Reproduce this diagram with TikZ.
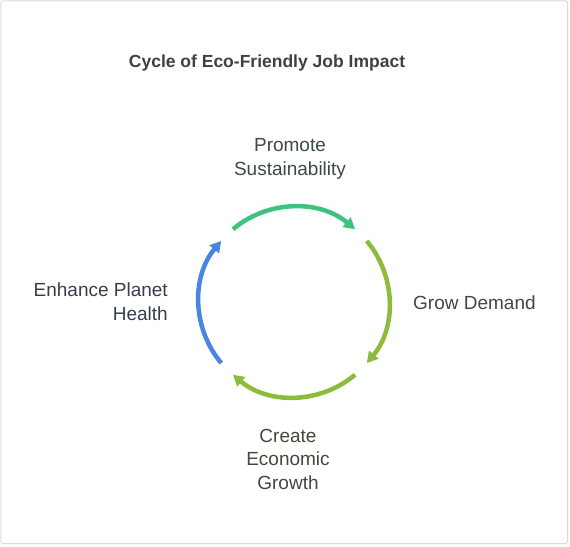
\documentclass[tikz,border=0pt]{standalone}
\usepackage{fontspec}
\setmainfont{Liberation Sans}
\usepackage{tikz}
\usetikzlibrary{arrows.meta}
\usepackage{color}
\definecolor{topgreen}{RGB}{61,194,128}
\definecolor{limegreen}{RGB}{141,188,60}
\definecolor{planetblue}{RGB}{74,134,224}
\definecolor{framegray}{RGB}{218,218,218}
\definecolor{titlegray}{RGB}{64,64,64}
\definecolor{txtgreen}{RGB}{58,74,68}
\definecolor{txtblue}{RGB}{54,62,76}
\definecolor{txtolive}{RGB}{69,71,60}

\begin{document}
\begin{tikzpicture}[x=1pt,y=1pt,
		cyc/.style={line width=4.5pt,-{Triangle[length=11pt,width=12pt]}}]
		\tikzstyle{lbl}=[font=\fontsize{19}{23.5}\selectfont,align=center,inner sep=0pt]
		
		\useasboundingbox (-294,-244) rectangle (276,302);
		\draw[framegray,line width=1pt,rounded corners=2pt] (-293,-241.5) rectangle (273.5,301);
		
		\node[font=\bfseries\fontsize{17.5}{21}\selectfont,text=titlegray] (t0) at (-27,239) {Cycle of Eco-Friendly Job Impact};
		
		\node[lbl,text=txtgreen] (s1) at (-4,143) {Promote\\Sustainability};
		\node[lbl,text=txtolive,anchor=west] (s2) at (119,-1) {Grow Demand};
		\node[lbl,text=txtolive] (s3) at (-6,-157) {Create\\Economic\\Growth};
		\node[lbl,text=txtblue,anchor=east,align=right] (s4) at (-126,0.5) {Enhance Planet\\Health};
		
		\coordinate (c) at (0,0);
		\coordinate (a1) at (130:95pt);
		\coordinate (a2) at (40:95pt);
		\coordinate (a3) at (-50:95pt);
		\coordinate (a4) at (220:95pt);
		
		\draw[cyc,topgreen] (a1) arc[start angle=130,end angle=50,radius=95pt];
		\draw[cyc,limegreen] (a2) arc[start angle=40,end angle=-40,radius=95pt];
		\draw[cyc,limegreen] (a3) arc[start angle=-50,end angle=-130,radius=95pt];
		\draw[cyc,planetblue] (a4) arc[start angle=220,end angle=140,radius=95pt];
		\end{tikzpicture}
\end{document}
